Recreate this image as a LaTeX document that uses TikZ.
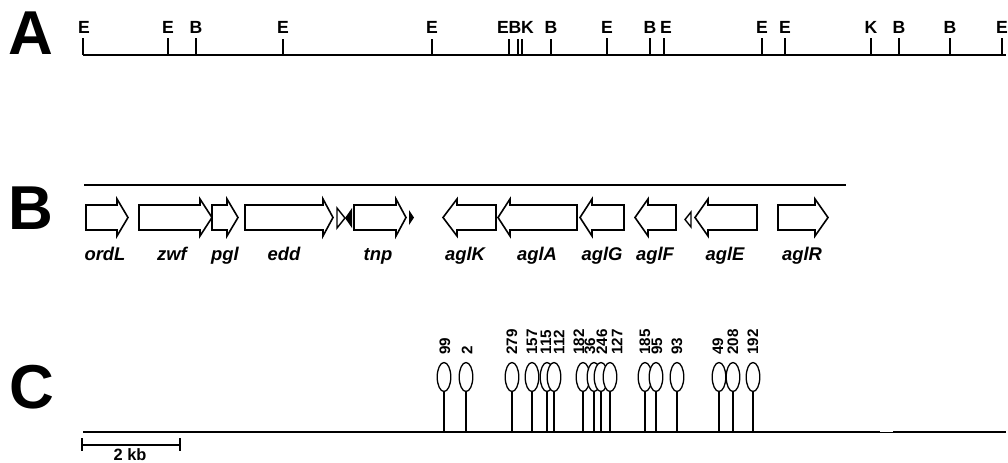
\documentclass[tikz,border=0pt]{standalone}
\usepackage{fontspec}
\setsansfont{Liberation Sans}
\usetikzlibrary{shapes.geometric}

\tikzset{
  panel/.style={font=\sffamily\bfseries\fontsize{31}{31}\selectfont, inner sep=0},
  sitelabel/.style={font=\sffamily\bfseries\fontsize{8.8}{9}\selectfont, inner sep=0, anchor=base},
  genelabel/.style={font=\sffamily\bfseries\itshape\fontsize{9.2}{10}\selectfont, inner sep=0, anchor=base},
  genebox/.style={draw, line width=0.8pt, fill=white, line join=miter},
  mapline/.style={line width=1pt},
  tickline/.style={line width=0.7pt},
  seqsite/.style={ellipse, draw, fill=white, line width=0.65pt, minimum width=6.8pt, minimum height=14.5pt, inner sep=0},
  stemline/.style={line width=0.6pt},
  sitenum/.style={font=\sffamily\bfseries\fontsize{7.6}{8}\selectfont, rotate=90, anchor=west, inner sep=0}
}
\newcommand{\GeneR}[3]{\draw[genebox] (#1,205) -- (#2,205) -- (#2,199) -- (#3,217.5) -- (#2,236) -- (#2,230) -- (#1,230) -- cycle;}
\newcommand{\GeneL}[3]{\draw[genebox] (#3,205) -- (#2,205) -- (#2,199) -- (#1,217.5) -- (#2,236) -- (#2,230) -- (#3,230) -- cycle;}
\newcommand{\Lolli}[3]{%
  \coordinate (L#3) at (#1,432);
  \node[seqsite] (S#3) at (#1,377) {};
  \draw[stemline] (S#3.south) -- (L#3);
  \node[sitenum] (N#3) at (#2,355) {#3};}

\begin{document}
\begin{tikzpicture}[x=0.5pt,y=-0.5pt]
        \useasboundingbox (0,0) rectangle (1008,462);
        % panel A: restriction map
        \node[panel] (PA) at (31,33.5) {A};
        \draw[mapline] (83,55) -- (1006,55);
        \draw[tickline] (83,38) -- (83,55);   \node[sitelabel] (A1) at (84,33) {E};
        \draw[tickline] (168,38) -- (168,55); \node[sitelabel] (A2) at (168,33) {E};
        \draw[tickline] (196,38) -- (196,55); \node[sitelabel] (A3) at (196,33) {B};
        \draw[tickline] (283,39) -- (283,55); \node[sitelabel] (A4) at (283,33) {E};
        \draw[tickline] (432,39) -- (432,55); \node[sitelabel] (A5) at (432,33) {E};
        \draw[tickline] (509,39) -- (509,55); \node[sitelabel] (A6) at (503,33) {E};
        \draw[tickline] (518,39) -- (518,55); \node[sitelabel] (A7) at (515,33) {B};
        \draw[tickline] (522,39) -- (522,55); \node[sitelabel] (A8) at (527.5,33) {K};
        \draw[tickline] (551,39) -- (551,55); \node[sitelabel] (A9) at (551,33) {B};
        \draw[tickline] (607,38) -- (607,55); \node[sitelabel] (A10) at (607,33) {E};
        \draw[tickline] (650,38) -- (650,55); \node[sitelabel] (A11) at (650,33) {B};
        \draw[tickline] (664,38) -- (664,55); \node[sitelabel] (A12) at (666,33) {E};
        \draw[tickline] (762,38) -- (762,55); \node[sitelabel] (A13) at (762,33) {E};
        \draw[tickline] (785,38) -- (785,55); \node[sitelabel] (A14) at (785,33) {E};
        \draw[tickline] (871,38) -- (871,55); \node[sitelabel] (A15) at (871,33) {K};
        \draw[tickline] (899,38) -- (899,55); \node[sitelabel] (A16) at (899,33) {B};
        \draw[tickline] (950,38) -- (950,55); \node[sitelabel] (A17) at (950,33) {B};
        \draw[tickline] (1002,38) -- (1002,55); \node[sitelabel] (A18) at (1002,33) {E};

        % panel B: genes
        \node[panel] (PB) at (31,208.5) {B};
        \draw[mapline] (84,185) -- (846,185);
        \GeneR{86}{117}{128}
        \GeneR{139}{200}{212}
        \GeneR{212}{227}{238}
        \GeneR{245}{323}{333}
        \draw[line width=0.7pt] (337,208) -- (345,218) -- (337,228) -- cycle;
        \fill (352,208) -- (345,218) -- (352,228) -- cycle;
        \GeneR{354}{396}{406}
        \fill (409,210) -- (414,217.5) -- (409,225) -- cycle;
        \GeneL{443}{457}{496}
        \GeneL{498}{510}{577}
        \GeneL{580}{592}{624}
        \GeneL{635}{648}{676}
        \draw[line width=0.7pt] (691,212) -- (685,219.5) -- (691,227) -- cycle;
        \GeneL{695}{708}{757}
        \GeneR{778}{815}{828}
        \node[genelabel] (ordL) at (105,260) {ordL};
        \node[genelabel] (zwf) at (172,260) {zwf};
        \node[genelabel] (pgl) at (225,260) {pgl};
        \node[genelabel] (edd) at (284,260) {edd};
        \node[genelabel] (tnp) at (378,260) {tnp};
        \node[genelabel] (aglK) at (465,260) {aglK};
        \node[genelabel] (aglA) at (537,260) {aglA};
        \node[genelabel] (aglG) at (602,260) {aglG};
        \node[genelabel] (aglF) at (655,260) {aglF};
        \node[genelabel] (aglE) at (725,260) {aglE};
        \node[genelabel] (aglR) at (802,260) {aglR};

        % panel C: insertion sites
        \node[panel] (PC) at (32,387.5) {C};
        \draw[mapline] (83,432) -- (880,432);
        \draw[mapline] (893,432) -- (1006,432);
        \draw[line width=0.4pt] (880,432) -- (893,432);
        \Lolli{444}{445}{99}
        \Lolli{466}{467}{2}
        \Lolli{512}{512}{279}
        \Lolli{532}{532}{157}
        \Lolli{547}{546}{115}
        \Lolli{554}{559}{112}
        \Lolli{583}{579}{182}
        \Lolli{594}{590}{36}
        \Lolli{601}{602}{246}
        \Lolli{610}{617}{127}
        \Lolli{645}{645}{185}
        \Lolli{656}{657}{95}
        \Lolli{677}{677}{93}
        \Lolli{719}{718}{49}
        \Lolli{733}{733}{208}
        \Lolli{753}{753}{192}

        % scale bar
        \coordinate (K0) at (82,445);
        \coordinate (K1) at (180,445);
        \draw[tickline] (K0) -- (K1);
        \draw[tickline] (82,438) -- (82,451);
        \draw[tickline] (180,438) -- (180,451);
        \node[sitelabel, anchor=base, font=\sffamily\bfseries\fontsize{8.2}{9}\selectfont] (kb) at (130,460.5) {2 kb};
\end{tikzpicture}
\end{document}
